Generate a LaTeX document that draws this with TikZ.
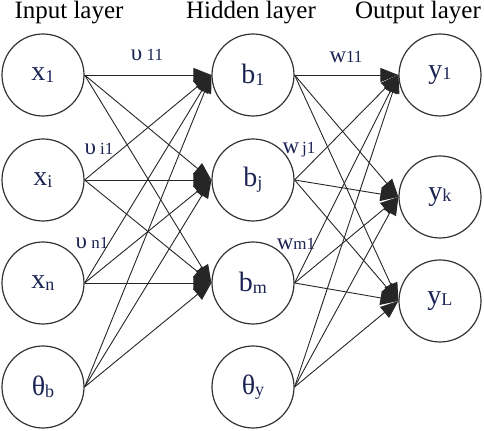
\documentclass[tikz,border=0pt]{standalone}
\usepackage{fontspec}
\setmainfont{Liberation Serif}
\usepackage{tikz}
\usepackage{xcolor}
\usetikzlibrary{arrows.meta}
\definecolor{label-blue}{RGB}{28,36,84}
\tikzset{
    neuron-node/.style = {draw=black!80, circle, line width=0.6pt, minimum size=41pt, inner sep=0pt, text=label-blue},
    layer-title/.style = {anchor=base, font=\fontsize{12.5}{14}\selectfont},
    weight-label/.style = {text=label-blue, inner sep=0pt},
    link-arrow/.style = {draw=black!85, line width=0.45pt, -{Triangle[length=9pt,width=7pt]}},
}
\newcommand{\nsub}[2]{{\fontsize{14}{16}\selectfont #1}{\fontsize{9}{10}\selectfont\raisebox{-0.8pt}{#2}}}
\newcommand{\wsub}[2]{{\fontsize{11.5}{12}\selectfont #1}{\fontsize{8.5}{9}\selectfont #2}}

\begin{document}
\begin{tikzpicture}[x=0.5pt, y=-0.5pt]
\useasboundingbox (0,0) rectangle (484,431);
% layer titles
\node[layer-title] (title-in) at (69,19) {Input layer};
\node[layer-title] (title-hid) at (251,19) {Hidden layer};
\node[layer-title] (title-out) at (418,19) {Output layer};
% input layer
\node[neuron-node] (x1) at (43,75) {\nsub{x}{1}};
\node[neuron-node] (xi) at (43,180) {\nsub{x}{i}};
\node[neuron-node] (xn) at (43,283) {\nsub{x}{n}};
\node[neuron-node] (tb) at (43,387) {\nsub{θ}{b}};
% hidden layer
\node[neuron-node] (b1) at (253,75) {\nsub{b}{1}};
\node[neuron-node] (bj) at (253,180) {\nsub{b}{j}};
\node[neuron-node] (bm) at (253,283) {\nsub{b}{m}};
\node[neuron-node] (ty) at (253,387) {\nsub{θ}{y}};
% output layer
\node[neuron-node] (y1) at (440,75) {\nsub{y}{1}};
\node[neuron-node] (yk) at (440,197) {\nsub{y}{k}};
\node[neuron-node] (yL) at (440,301) {\nsub{y}{L}};
% connections
\foreach \src in {x1,xi,xn,tb}
    \foreach \dst in {b1,bj,bm}
        \draw[link-arrow] (\src.east) -- (\dst.west);
\foreach \src in {b1,bj,bm,ty}
    \foreach \dst in {y1,yk,yL}
        \draw[link-arrow] (\src.east) -- (\dst.west);
% weights
\node[weight-label] (v11) at (147,55) {\wsub{υ}{\ 11}};
\node[weight-label] (vi1) at (99,149) {\wsub{υ}{\ i1}};
\node[weight-label] (vn1) at (92,243) {\wsub{υ}{\ n1}};
\node[weight-label] (w11) at (346,57) {\wsub{w}{11}};
\node[weight-label] (wj1) at (299,150) {\wsub{w}{\,j1}};
\node[weight-label] (wm1) at (296,244) {\wsub{w}{m1}};
\end{tikzpicture}
\end{document}
